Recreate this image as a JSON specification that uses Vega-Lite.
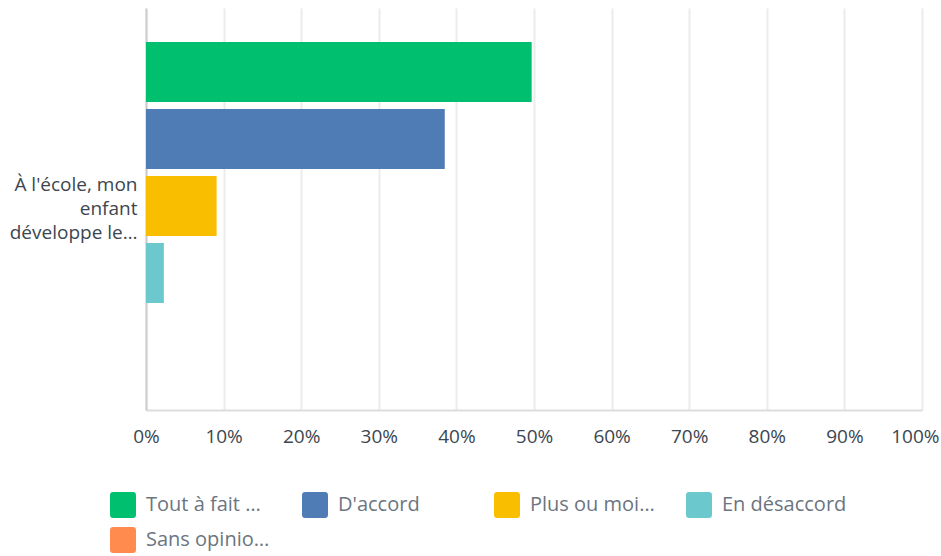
{
  "$schema": "https://vega.github.io/schema/vega-lite/v6.json",
  "autosize": {"type": "none"},
  "padding": {"left": 146, "top": 8, "right": 19, "bottom": 146},
  "width": 776,
  "height": 402,
  "background": "white",
  "config": {
    "view": {"stroke": null},
    "font": "Open Sans"
  },
  "data": {
    "values": [
      {"question": "À l'école, mon enfant développe le…", "response": "Tout à fait …", "order": 1, "pct": 0.497},
      {"question": "À l'école, mon enfant développe le…", "response": "D'accord", "order": 2, "pct": 0.385},
      {"question": "À l'école, mon enfant développe le…", "response": "Plus ou moi…", "order": 3, "pct": 0.091},
      {"question": "À l'école, mon enfant développe le…", "response": "En désaccord", "order": 4, "pct": 0.023},
      {"question": "À l'école, mon enfant développe le…", "response": "Sans opinio…", "order": 5, "pct": 0.0}
    ]
  },
  "mark": {"type": "bar"},
  "encoding": {
    "y": {
      "field": "question",
      "type": "nominal",
      "title": null,
      "scale": {"paddingInner": 0, "paddingOuter": 0.1128, "align": 0.46},
      "axis": {
        "labelExpr": "['À l\\'école, mon', 'enfant', 'développe le…']",
        "labelFontSize": 19,
        "labelColor": "#3c4650",
        "labelLineHeight": 24,
        "labelPadding": 9,
        "labelOffset": -21,
        "ticks": false,
        "domainColor": "#cccccc",
        "domainWidth": 2,
        "labelLimit": 200
      }
    },
    "yOffset": {
      "field": "response",
      "type": "nominal",
      "sort": {"field": "order"},
      "scale": {"paddingInner": 0.1045, "paddingOuter": 0}
    },
    "x": {
      "field": "pct",
      "type": "quantitative",
      "title": null,
      "scale": {"domain": [0, 1], "nice": false},
      "axis": {
        "format": ".0%",
        "values": [0, 0.1, 0.2, 0.3, 0.4, 0.5, 0.6, 0.7, 0.8, 0.9, 1],
        "labelOverlap": false,
        "labelFontSize": 19,
        "labelColor": "#3c4650",
        "labelPadding": 17,
        "labelAlign": {"expr": "datum.value == 1 ? 'right' : 'center'"},
        "labelOffset": {"expr": "datum.value == 1 ? 17 : 0"},
        "ticks": false,
        "grid": true,
        "gridColor": "#ececec",
        "gridWidth": 2,
        "domainColor": "#dddddd",
        "domainWidth": 2,
        "labelFlush": false
      }
    },
    "color": {
      "field": "response",
      "type": "nominal",
      "sort": {"field": "order"},
      "scale": {
        "domain": ["Tout à fait …", "D'accord", "Plus ou moi…", "En désaccord", "Sans opinio…"],
        "range": ["#00bf6f", "#507cb6", "#f9be00", "#6bc8cd", "#ff8b4f"]
      },
      "legend": {
        "title": null,
        "orient": "none",
        "legendX": -36,
        "legendY": 484,
        "direction": "horizontal",
        "columns": 4,
        "gridAlign": "all",
        "columnPadding": 31,
        "rowPadding": 9,
        "symbolType": "M -0.75 -1 L 0.75 -1 Q 1 -1 1 -0.75 L 1 0.75 Q 1 1 0.75 1 L -0.75 1 Q -1 1 -1 0.75 L -1 -0.75 Q -1 -1 -0.75 -1 Z",
        "symbolSize": 676,
        "symbolStrokeWidth": 0,
        "symbolOpacity": 1,
        "labelFontSize": 20,
        "labelColor": "#6b7580",
        "labelOffset": 10,
        "labelLimit": 200
      }
    }
  }
}
